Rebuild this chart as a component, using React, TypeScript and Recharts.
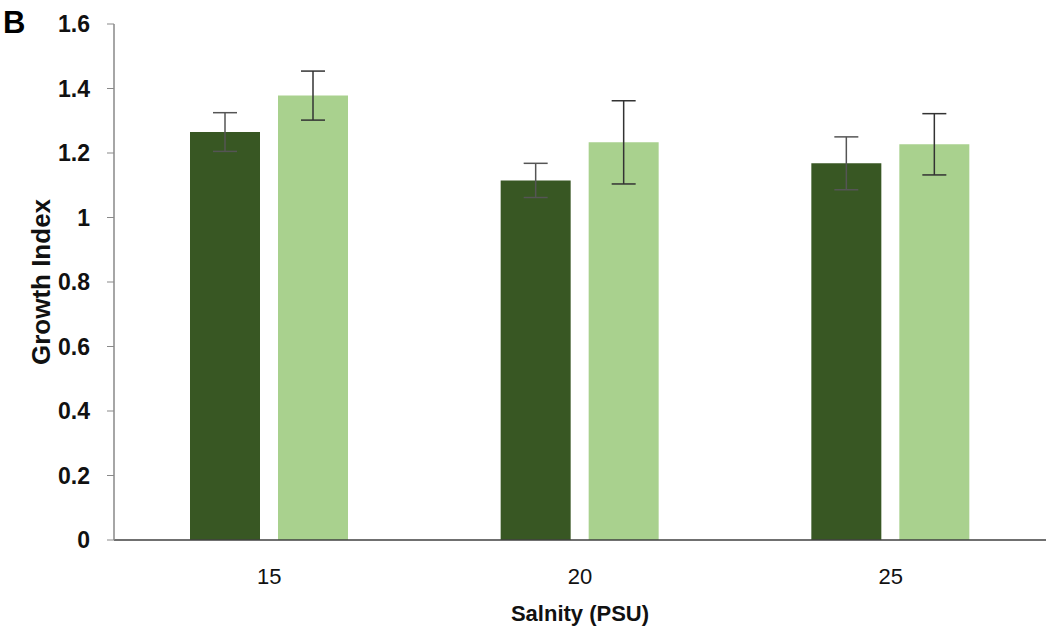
import { BarChart, Bar, XAxis, YAxis, ErrorBar } from 'recharts'

const salinity = ['15', '20', '25']
const darkValues = [1.265, 1.115, 1.168]
const darkErrors = [0.06, 0.053, 0.082]
const lightValues = [1.378, 1.233, 1.227]
const lightErrors = [0.076, 0.129, 0.095]
const yTicks = [0, 0.2, 0.4, 0.6, 0.8, 1, 1.2, 1.4, 1.6]

const data = salinity.map((s, i) => ({
  salinity: s,
  dark: darkValues[i],
  darkErr: darkErrors[i],
  light: lightValues[i],
  lightErr: lightErrors[i],
}))

const font = "'Liberation Sans', Arial, sans-serif"

export default function App() {
  return (
    <div style={{ position: 'absolute', left: 0, top: 0, width: 1050, height: 641, background: '#fff' }}>
      <div
        style={{
          position: 'absolute',
          left: 3,
          top: 4,
          fontFamily: font,
          fontWeight: 'bold',
          fontSize: 31,
          lineHeight: '38px',
        }}
      >
        B
      </div>
      <BarChart
        width={1050}
        height={641}
        data={data}
        margin={{ top: 24, right: 4, left: 0, bottom: 0 }}
        barGap={18}
      >
        <XAxis
          dataKey="salinity"
          height={101}
          tickLine={false}
          tickSize={0}
          tickMargin={28}
          axisLine={{ stroke: '#404040', strokeWidth: 1.5 }}
          tick={{ fill: '#111', fontSize: 22, fontFamily: font }}
          label={{
            content: () => (
              <text
                x={580}
                y={621}
                textAnchor="middle"
                fontFamily={font}
                fontWeight="bold"
                fontSize={22}
                fill="#111"
              >
                Salnity (PSU)
              </text>
            ),
          }}
        />
        <YAxis
          width={114}
          domain={[0, 1.6]}
          ticks={yTicks}
          interval={0}
          tickSize={7}
          tickMargin={17}
          axisLine={{ stroke: '#898989', strokeWidth: 1.5 }}
          tickLine={{ stroke: '#898989' }}
          tick={{ fill: '#111', fontSize: 23, fontWeight: 'bold', fontFamily: font }}
          label={{
            content: () => (
              <text
                transform="translate(50,282) rotate(-90)"
                x={0}
                y={0}
                textAnchor="middle"
                fontFamily={font}
                fontWeight="bold"
                fontSize={26}
                fill="#111"
              >
                Growth Index
              </text>
            ),
          }}
        />
        <Bar dataKey="dark" fill="#385723" barSize={70} isAnimationActive={false}>
          <ErrorBar dataKey="darkErr" width={12} stroke="#555" strokeWidth={1.5} />
        </Bar>
        <Bar dataKey="light" fill="#A9D18E" barSize={70} isAnimationActive={false}>
          <ErrorBar dataKey="lightErr" width={12} stroke="#333" strokeWidth={1.5} />
        </Bar>
      </BarChart>
    </div>
  )
}
